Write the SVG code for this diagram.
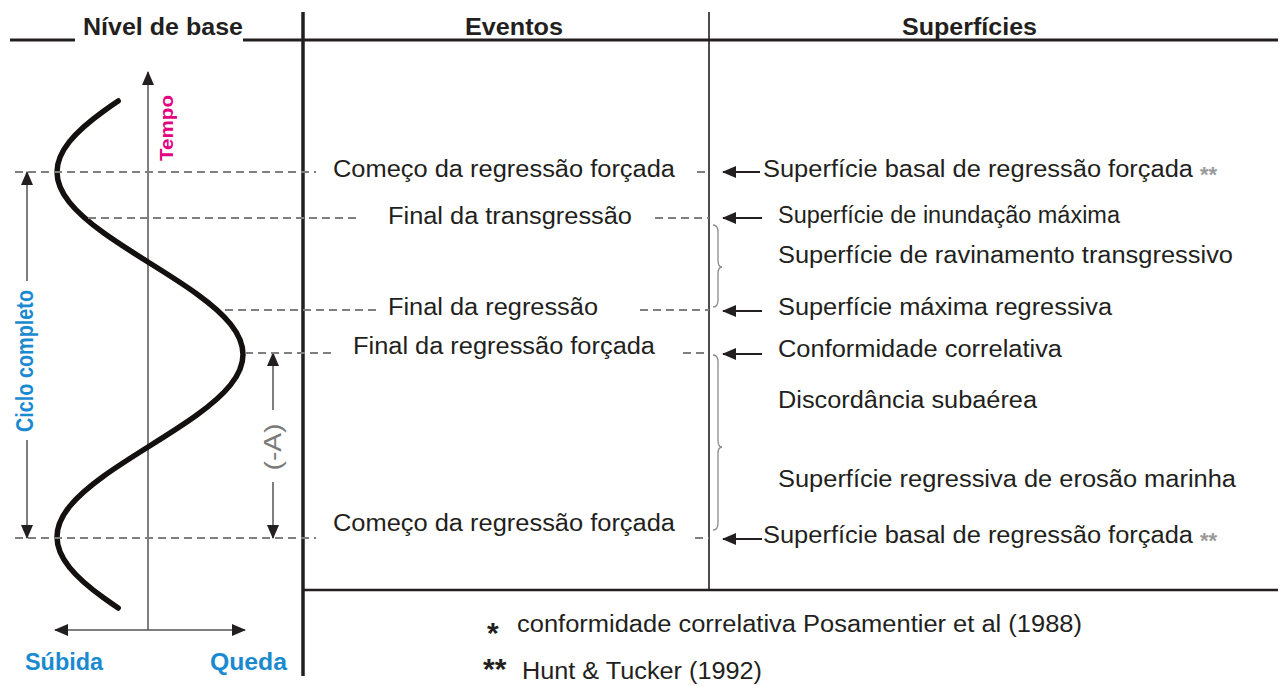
<svg xmlns="http://www.w3.org/2000/svg" width="1282" height="686" viewBox="0 0 1282 686">
<style>
  text { font-family: "Liberation Sans", Arial, sans-serif; fill: #231f20; }
  .hdr { font-size: 23px; font-weight: bold; }
  .ev { font-size: 23px; }
  .sf { font-size: 23px; }
  .blue { font-size: 23px; font-weight: bold; fill: #1a8ad0; }
  .mag { font-size: 19px; font-weight: bold; fill: #e4007f; }
  .gray { font-size: 24px; fill: #7a7a7a; }
  .star { font-size: 22px; font-weight: bold; fill: #9a9a9a; }
  .fn { font-size: 23px; }
  .fnstar { font-size: 30px; font-weight: bold; }
  .frame { stroke: #231f20; fill: none; }
  .dash { stroke: #7f7f7f; stroke-width: 2; stroke-dasharray: 8 5; fill: none; }
  .thin { stroke: #555; stroke-width: 1.5; fill: none; }
  .brace { stroke: #8a8a8a; stroke-width: 1.3; fill: none; }
  .arr { stroke: #231f20; stroke-width: 2; fill: none; }
  .curve { stroke: #141010; stroke-width: 5.5; fill: none; stroke-linecap: round; }
</style>
<defs>
  <marker id="ah" viewBox="0 0 14 12" refX="13" refY="6" markerWidth="14" markerHeight="12" markerUnits="userSpaceOnUse" orient="auto-start-reverse">
    <path d="M0,0 L14,6 L0,12 Z" fill="#231f20"/>
  </marker>
</defs>

<!-- frame lines -->
<g id="frame">
  <line class="frame" x1="10" y1="40" x2="75" y2="40" stroke-width="3"/>
  <line class="frame" x1="243" y1="40" x2="1278" y2="40" stroke-width="3"/>
  <line class="frame" x1="303" y1="12" x2="303" y2="676" stroke-width="3.5"/>
  <line class="frame" x1="709" y1="12" x2="709" y2="590" stroke-width="1.6"/>
  <line class="frame" x1="303" y1="590" x2="1278" y2="590" stroke-width="2.5" stroke="#444"/>
</g>

<!-- headers -->
<g id="headers">
  <text class="hdr" x="83" y="35" textLength="160" lengthAdjust="spacingAndGlyphs">Nível de base</text>
  <text class="hdr" x="465" y="35" textLength="98" lengthAdjust="spacingAndGlyphs">Eventos</text>
  <text class="hdr" x="902" y="35" textLength="135" lengthAdjust="spacingAndGlyphs">Superfícies</text>
</g>

<!-- base level graph -->
<g id="graph">
  <line class="thin" x1="148" y1="72" x2="148" y2="630" marker-start="url(#ah)"/>
  <line class="thin" x1="55" y1="630" x2="245" y2="630" marker-start="url(#ah)" marker-end="url(#ah)"/>
  <path class="curve" d="M118.2,101 C113.12,104.38 108.19,107.82 103.5,111.2 C89.44,121.34 77.58,131.46 69.46,141.6 C61.34,151.74 57,161.86 57,172 C57,182.14 61.34,192.26 69.46,202.4 C77.58,212.54 89.44,222.66 103.5,232.8 C117.56,242.94 133.77,253.11 150,263.25 C166.23,273.39 182.44,283.56 196.5,293.7 C210.56,303.84 222.42,313.96 230.54,324.1 C238.66,334.24 243,344.36 243,354.5 C243,364.64 238.66,374.76 230.54,384.9 C222.42,395.04 210.56,405.16 196.5,415.3 C182.44,425.44 166.23,435.61 150,445.75 C133.77,455.89 117.56,466.06 103.5,476.2 C89.44,486.34 77.58,496.46 69.46,506.6 C61.34,516.74 57,526.86 57,537 C57,547.14 61.34,557.26 69.46,567.4 C77.58,577.54 89.44,587.66 103.5,597.8 C108.19,601.18 113.12,604.62 118.2,608"/>
  <text class="mag" transform="translate(173,128) rotate(-90)" text-anchor="middle" textLength="66" lengthAdjust="spacingAndGlyphs">Tempo</text>
  <text class="blue" x="25" y="670" textLength="78" lengthAdjust="spacingAndGlyphs">Súbida</text>
  <text class="blue" x="210" y="670" textLength="77" lengthAdjust="spacingAndGlyphs">Queda</text>
</g>

<!-- cycle and (-A) dimension arrows -->
<g id="ciclo">
  <line class="thin" x1="27" y1="172" x2="27" y2="281" marker-start="url(#ah)"/>
  <line class="thin" x1="27" y1="440" x2="27" y2="538" marker-end="url(#ah)"/>
  <text class="blue" transform="translate(33,361) rotate(-90)" text-anchor="middle" font-size="20" textLength="142" lengthAdjust="spacingAndGlyphs">Ciclo completo</text>
</g>
<g id="menosA">
  <line class="thin" x1="273" y1="353" x2="273" y2="410" marker-start="url(#ah)"/>
  <line class="thin" x1="273" y1="482" x2="273" y2="538" marker-end="url(#ah)"/>
  <text class="gray" transform="translate(281,447) rotate(-90)" text-anchor="middle" textLength="47" lengthAdjust="spacingAndGlyphs">(-A)</text>
</g>

<!-- dashed guide lines -->
<g id="connectors">
  <line class="dash" x1="15" y1="172" x2="316" y2="172"/>
  <line class="dash" x1="697" y1="172" x2="709" y2="172"/>
  <line class="dash" x1="88" y1="218" x2="357" y2="218"/>
  <line class="dash" x1="655" y1="218" x2="709" y2="218"/>
  <line class="dash" x1="225" y1="310" x2="376" y2="310"/>
  <line class="dash" x1="640" y1="310" x2="709" y2="310"/>
  <line class="dash" x1="245" y1="353" x2="332" y2="353"/>
  <line class="dash" x1="683" y1="353" x2="709" y2="353"/>
  <line class="dash" x1="15" y1="538" x2="316" y2="538"/>
  <line class="dash" x1="695" y1="538" x2="709" y2="538"/>
  <!-- pointer arrows -->
  <line class="arr" x1="760" y1="172" x2="723" y2="172" marker-end="url(#ah)"/>
  <line class="arr" x1="762" y1="218" x2="723" y2="218" marker-end="url(#ah)"/>
  <line class="arr" x1="762" y1="311" x2="723" y2="311" marker-end="url(#ah)"/>
  <line class="arr" x1="762" y1="354" x2="723" y2="354" marker-end="url(#ah)"/>
  <line class="arr" x1="762" y1="539" x2="723" y2="539" marker-end="url(#ah)"/>
  <!-- braces -->
  <path class="brace" d="M713,225 Q718,225 718,232 L718,260 Q718,267 722,267 Q718,267 718,274 L718,300 Q718,307 713,307"/>
  <path class="brace" d="M713,355 Q718,355 718,362 L718,440 Q718,447 722,447 Q718,447 718,454 L718,523 Q718,530 713,530"/>
</g>

<!-- events -->
<g id="ev1"><text class="ev" x="333" y="177" textLength="342" lengthAdjust="spacingAndGlyphs">Começo da regressão forçada</text></g>
<g id="ev2"><text class="ev" x="388" y="224" textLength="244" lengthAdjust="spacingAndGlyphs">Final da transgressão</text></g>
<g id="ev3"><text class="ev" x="388" y="315" textLength="210" lengthAdjust="spacingAndGlyphs">Final da regressão</text></g>
<g id="ev4"><text class="ev" x="353" y="354" textLength="302" lengthAdjust="spacingAndGlyphs">Final da regressão forçada</text></g>
<g id="ev5"><text class="ev" x="333" y="531" textLength="342" lengthAdjust="spacingAndGlyphs">Começo da regressão forçada</text></g>

<!-- surfaces -->
<g id="sf1"><text class="sf" x="763" y="177" textLength="430" lengthAdjust="spacingAndGlyphs">Superfície basal de regressão forçada</text><text class="star" x="1200" y="182">**</text></g>
<g id="sf2"><text class="sf" x="778" y="223" textLength="342" lengthAdjust="spacingAndGlyphs">Superfície de inundação máxima</text></g>
<g id="sf3"><text class="sf" x="778" y="263" textLength="455" lengthAdjust="spacingAndGlyphs">Superfície de ravinamento transgressivo</text></g>
<g id="sf4"><text class="sf" x="778" y="315" textLength="334" lengthAdjust="spacingAndGlyphs">Superfície máxima regressiva</text></g>
<g id="sf5"><text class="sf" x="778" y="357" textLength="284" lengthAdjust="spacingAndGlyphs">Conformidade correlativa</text></g>
<g id="sf6"><text class="sf" x="778" y="408" textLength="259" lengthAdjust="spacingAndGlyphs">Discordância subaérea</text></g>
<g id="sf7"><text class="sf" x="778" y="487" textLength="458" lengthAdjust="spacingAndGlyphs">Superfície regressiva de erosão marinha</text></g>
<g id="sf8"><text class="sf" x="763" y="543" textLength="430" lengthAdjust="spacingAndGlyphs">Superfície basal de regressão forçada</text><text class="star" x="1200" y="548">**</text></g>

<!-- footnotes -->
<g id="footnotes">
  <text class="fnstar" x="487" y="643">*</text>
  <text class="fn" x="517" y="632" textLength="565" lengthAdjust="spacingAndGlyphs">conformidade correlativa Posamentier et al (1988)</text>
  <text class="fnstar" x="483" y="679" font-size="26">**</text>
  <text class="fn" x="522" y="679" textLength="240" lengthAdjust="spacingAndGlyphs">Hunt &amp; Tucker (1992)</text>
</g>
</svg>
